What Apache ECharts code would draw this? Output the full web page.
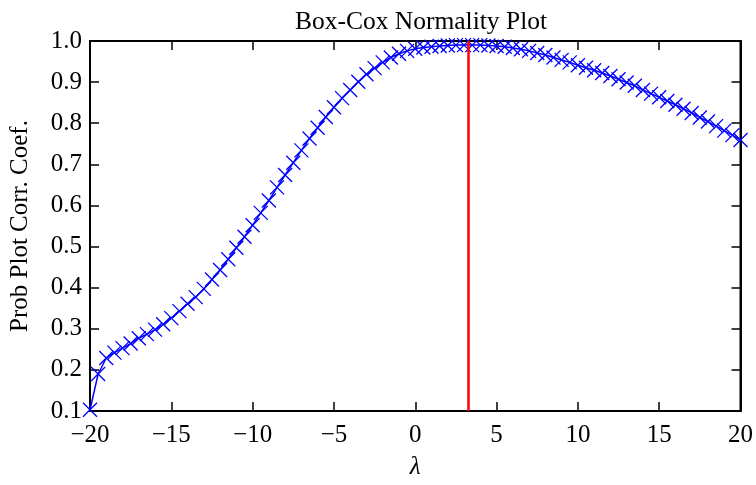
<!DOCTYPE html>
<html>
<head>
<meta charset="utf-8">
<script src="https://cdn.jsdelivr.net/npm/echarts@6/dist/echarts.min.js"></script>
<style>
html,body{margin:0;padding:0;background:#fff;}
#chart{width:756px;height:485px;}
</style>
</head>
<body>
<div id="chart"></div>
<script>
// lambda values (-20 .. 20, step 0.5)
const lambdas = [
-20,-19.5,-19,-18.5,-18,-17.5,-17,-16.5,-16,-15.5,
-15,-14.5,-14,-13.5,-13,-12.5,-12,-11.5,-11,-10.5,
-10,-9.5,-9,-8.5,-8,-7.5,-7,-6.5,-6,-5.5,
-5,-4.5,-4,-3.5,-3,-2.5,-2,-1.5,-1,-0.5,
0,0.5,1,1.5,2,2.5,3,3.5,4,4.5,
5,5.5,6,6.5,7,7.5,8,8.5,9,9.5,
10,10.5,11,11.5,12,12.5,13,13.5,14,14.5,
15,15.5,16,16.5,17,17.5,18,18.5,19,19.5,20
];
// probability plot correlation coefficient
const ppcc = [
0.103,0.190,0.229,0.242,0.253,0.264,0.277,0.287,0.298,0.311,
0.326,0.343,0.361,0.377,0.397,0.420,0.443,0.469,0.497,0.524,
0.552,0.582,0.612,0.644,0.674,0.704,0.734,0.763,0.789,0.815,
0.839,0.861,0.881,0.901,0.919,0.934,0.948,0.960,0.969,0.976,
0.981,0.984,0.986,0.988,0.989,0.990,0.990,0.990,0.990,0.989,
0.988,0.986,0.983,0.980,0.976,0.971,0.966,0.960,0.954,0.948,
0.941,0.935,0.929,0.922,0.915,0.907,0.899,0.891,0.881,0.872,
0.863,0.854,0.845,0.835,0.825,0.814,0.804,0.793,0.782,0.771,0.759
];
// optimal lambda (red vertical line)
const peakLambda = 3.25;
const xTicks = [-20, 20, 5];      // min, max, interval
const yTicks = [0.1, 1.0, 0.1];   // min, max, interval
const titleText = 'Box-Cox Normality Plot';
const xName = 'λ';
const yName = 'Prob Plot Corr. Coef.';

const FONT = '"Liberation Serif", "DejaVu Serif", serif';
const chart = echarts.init(document.getElementById('chart'), null, {renderer: 'canvas'});
const pts = lambdas.map((x, i) => [x, ppcc[i]]);

const tickStyle = {show: true, inside: true, length: 9, lineStyle: {color: '#000', width: 1.5}};
const lineStyle = {show: true, onZero: false, lineStyle: {color: '#000', width: 2}};

chart.setOption({
  animation: false,
  backgroundColor: '#fff',
  title: {
    text: titleText, left: 416, textAlign: 'center', top: 4,
    textStyle: {fontFamily: FONT, fontSize: 25.5, fontWeight: 'normal', color: '#000'}
  },
  grid: {left: 90, right: 14, top: 41, bottom: 71, show: true, borderColor: '#000', borderWidth: 2, backgroundColor: 'transparent'},
  xAxis: [{
    type: 'value', min: xTicks[0], max: xTicks[1], interval: xTicks[2],
    axisLine: lineStyle, axisTick: tickStyle, splitLine: {show: false},
    axisLabel: {fontFamily: FONT, fontSize: 25, color: '#000', margin: 12,
      formatter: v => String(v).replace('-', '\u2212')},
    name: xName, nameLocation: 'middle', nameGap: 44,
    nameTextStyle: {fontFamily: FONT, fontSize: 25, fontStyle: 'italic', color: '#000'}
  }, {
    type: 'value', position: 'top', min: xTicks[0], max: xTicks[1], interval: xTicks[2],
    axisLine: lineStyle, axisTick: tickStyle, splitLine: {show: false}, axisLabel: {show: false}
  }],
  yAxis: [{
    type: 'value', min: yTicks[0], max: yTicks[1], interval: yTicks[2],
    axisLine: lineStyle, axisTick: tickStyle, splitLine: {show: false},
    axisLabel: {fontFamily: FONT, fontSize: 25, color: '#000', margin: 8,
      formatter: v => v.toFixed(1)},
    name: yName, nameLocation: 'middle', nameGap: 57, nameRotate: 90,
    nameTextStyle: {fontFamily: FONT, fontSize: 25, color: '#000'}
  }, {
    type: 'value', position: 'right', min: yTicks[0], max: yTicks[1], interval: yTicks[2],
    axisLine: lineStyle, axisTick: tickStyle, splitLine: {show: false}, axisLabel: {show: false}
  }],
  series: [{
    type: 'line',
    xAxisIndex: 0, yAxisIndex: 0,
    data: pts,
    clip: true,
    symbol: 'path://M0 0L10 10M10 0L0 10',
    symbolSize: 14,
    showAllSymbol: true,
    lineStyle: {color: '#0000ff', width: 1.5},
    itemStyle: {color: '#0000ff', borderColor: '#0000ff', borderWidth: 1.3},
    emphasis: {disabled: true},
    z: 3,
    markLine: {
      silent: true, symbol: ['none', 'none'],
      label: {show: false},
      lineStyle: {color: '#ff0000', width: 2.5, type: 'solid'},
      data: [{xAxis: peakLambda}]
    }
  }]
});
</script>
</body>
</html>
